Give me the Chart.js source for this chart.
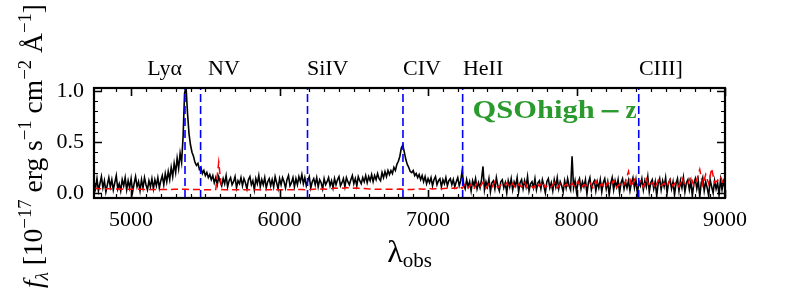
<!DOCTYPE html>
<html><head><meta charset="utf-8">
<script src="https://cdn.jsdelivr.net/npm/chart.js@4.4.0/dist/chart.umd.min.js"></script>
<style>html,body{margin:0;padding:0;background:#fff;}</style>
</head><body>
<canvas id="c" width="789" height="293"></canvas>
<script>
// ---------------- data ----------------
const WAVE_START = 4750, WAVE_STEP = 10;   // black spectrum sampling (Å)
const flux = [
 0.10,0.04,0.14,0.02,0.09,0.16,0.05,0.12,0.01,0.08,0.15,0.06,0.13,0.03,0.10,0.17,0.04,0.09,0.02,0.13,
 0.07,0.15,0.03,0.12,0.05,0.14,0.01,0.09,0.16,0.06,0.11,0.02,0.13,0.05,0.15,0.08,0.03,0.12,0.06,0.14,
 0.04,0.13,0.07,0.15,0.05,0.12,0.17,0.08,0.19,0.11,0.21,0.13,0.25,0.16,0.29,0.20,0.34,0.24,0.39,0.30,
 0.55,0.98,1.04,0.78,0.58,0.47,0.40,0.36,0.30,0.27,0.29,0.23,0.25,0.19,0.22,0.17,0.20,0.15,0.18,0.13,
 0.17,0.10,0.15,0.08,0.16,0.11,0.07,0.14,0.09,0.17,0.06,0.12,0.15,0.08,0.11,0.16,0.05,0.12,0.09,0.15,
 0.07,0.14,0.10,0.04,0.13,0.16,0.08,0.12,0.03,0.14,0.09,0.17,0.06,0.13,0.08,0.15,0.05,0.11,0.14,0.07,
 0.13,0.06,0.16,0.10,0.04,0.14,0.08,0.15,0.11,0.05,0.13,0.17,0.07,0.10,0.15,0.06,0.14,0.08,0.16,0.11,
 0.18,0.09,0.15,0.07,0.12,0.16,0.05,0.11,0.14,0.08,0.15,0.06,0.13,0.10,0.04,0.14,0.08,0.11,0.15,0.07,
 0.12,0.05,0.14,0.08,0.13,0.16,0.07,0.10,0.14,0.06,0.15,0.11,0.08,0.13,0.17,0.09,0.14,0.07,0.16,0.12,
 0.09,0.15,0.11,0.17,0.10,0.16,0.12,0.18,0.11,0.17,0.13,0.19,0.14,0.12,0.20,0.15,0.21,0.16,0.22,0.18,
 0.22,0.19,0.25,0.22,0.28,0.31,0.36,0.44,0.47,0.40,0.33,0.28,0.25,0.21,0.20,0.22,0.17,0.19,0.15,0.18,
 0.13,0.17,0.11,0.16,0.09,0.14,0.10,0.15,0.07,0.13,0.16,0.08,0.12,0.14,0.06,0.13,0.09,0.15,0.07,0.12,
 0.14,0.08,0.13,0.06,0.11,0.15,0.07,0.12,0.22,0.08,0.04,0.13,0.06,0.11,0.02,0.12,0.07,0.14,0.04,0.10,
 0.05,0.13,0.26,0.03,0.11,0.06,0.14,0.01,0.10,0.12,0.04,0.15,0.07,0.02,0.11,0.13,0.05,0.10,0.00,0.12,
 0.06,0.14,0.03,0.11,0.07,0.15,0.01,0.10,0.13,0.04,0.12,0.06,0.16,0.02,0.09,0.11,0.05,0.14,0.03,0.10,
 0.12,0.04,0.13,0.07,0.00,0.11,0.14,0.05,0.10,0.02,0.13,0.06,0.15,0.04,0.11,0.07,0.01,0.12,0.05,0.14,
 0.07,0.03,0.36,0.05,0.12,0.01,0.10,0.14,0.04,0.11,0.06,0.13,-0.01,0.10,0.15,0.03,0.09,0.12,0.02,0.11,
 0.05,0.13,0.01,0.10,0.14,0.04,0.11,-0.02,0.09,0.15,0.03,0.12,0.06,0.13,0.00,0.10,0.14,0.04,0.11,0.05,
 0.12,0.02,0.10,0.15,0.05,0.13,-0.01,0.11,0.07,0.14,0.03,0.12,0.06,0.16,0.01,0.10,0.13,0.04,0.11,-0.03,
 0.09,0.14,0.03,0.12,0.06,0.15,0.00,0.10,0.13,0.04,0.11,-0.02,0.09,0.14,0.02,0.12,0.05,0.15,0.01,0.10,
 0.13,0.03,0.11,-0.03,0.09,0.14,0.04,0.12,-0.04,0.10,0.15,0.02,0.11,0.05,-0.03,0.13,0.06,0.00,0.12,0.04,
 0.10,-0.02,0.13,0.03,0.11,0.05
];
const ERR_START = 4750, ERR_STEP = 20;     // red error spectrum sampling (Å)
const fluxErr = [
 0.045,0.043,0.042,0.041,0.040,0.040,0.039,0.038,0.038,0.037,0.037,0.036,0.036,0.036,0.035,0.035,0.035,0.034,0.034,0.034,
 0.034,0.033,0.033,0.033,0.033,0.034,0.034,0.035,0.036,0.036,0.035,0.035,0.034,0.034,0.033,0.033,0.033,0.032,0.032,0.032,
 0.032,0.033,0.300,0.033,0.031,0.031,0.031,0.031,0.030,0.030,0.030,0.030,0.030,0.030,0.030,0.030,0.030,0.030,0.030,0.030,
 0.030,0.030,0.030,0.031,0.031,0.031,0.032,0.032,0.033,0.034,0.033,0.032,0.033,0.034,0.036,0.038,0.036,0.040,0.037,0.035,
 0.042,0.048,0.045,0.050,0.046,0.052,0.047,0.044,0.049,0.045,0.041,0.043,0.040,0.038,0.037,0.036,0.036,0.035,0.035,0.035,
 0.035,0.036,0.037,0.038,0.036,0.035,0.034,0.034,0.035,0.037,0.039,0.036,0.040,0.042,0.038,0.041,0.044,0.040,0.043,0.046,
 0.042,0.048,0.044,0.070,0.045,0.090,0.050,0.082,0.040,0.095,0.060,0.105,0.045,0.088,0.055,0.110,0.050,0.078,0.062,0.098,
 0.055,0.092,0.048,0.085,0.060,0.105,0.050,0.075,0.045,0.098,0.065,0.110,0.052,0.080,0.058,0.100,0.047,0.090,0.062,0.085,
 0.050,0.095,0.060,0.115,0.048,0.082,0.066,0.100,0.052,0.120,0.058,0.090,0.045,0.105,0.070,0.125,0.055,0.088,0.062,0.110,
 0.210,0.060,0.130,0.070,0.115,0.055,0.140,0.065,0.100,0.050,0.125,0.072,0.095,0.058,0.130,0.068,0.110,0.060,0.145,0.075,
 0.090,0.160,0.070,0.130,0.230,0.080,0.180,0.090,0.240,0.100,0.120,0.160,0.085
];
const lineNames = ['Lyα','NV','SiIV','CIV','HeII','CIII]'];
const lineWaves = [5363, 5468, 6188, 6831, 7233, 8419];
const xTickLabels = [5000, 6000, 7000, 8000, 9000];
const yTickLabels = [0.0, 0.5, 1.0];
const objectLabel = 'QSOhigh';

// ---------------- styling / layout (not data) ----------------
const SERIF = '"Liberation Serif", "Times New Roman", serif';
const X_MIN = 4750, X_MAX = 9000, Y_MIN = -0.05, Y_MAX = 1.03;
const labelAnchors = [5343, 5518, 6184, 6831, 7235, 8420];
const labelAlign = ['right','left','left','left','left','left'];

const specPts = flux.map((f, i) => ({x: WAVE_START + i * WAVE_STEP, y: f}));
const errPts = fluxErr.map((f, i) => ({x: ERR_START + i * ERR_STEP, y: f}));
const lineSets = lineWaves.map(w => ({
  data: [{x: w, y: Y_MIN}, {x: w, y: Y_MAX}],
  borderColor: '#0000ff', borderWidth: 1.6, borderDash: [8, 4],
  pointRadius: 0, order: 0, clip: 0
}));

function drawRich(ctx, parts, x, y) {
  let cx = x;
  parts.forEach(p => {
    ctx.font = (p.style || '') + ' ' + p.size + 'px ' + SERIF;
    ctx.fillText(p.t, cx, y + (p.dy || 0));
    cx += ctx.measureText(p.t).width;
  });
  return cx - x;
}
function richWidth(ctx, parts) {
  let w = 0;
  parts.forEach(p => { ctx.font = (p.style || '') + ' ' + p.size + 'px ' + SERIF; w += ctx.measureText(p.t).width; });
  return w;
}

const decor = {
  id: 'decor',
  afterDraw(chart) {
    const {ctx, chartArea: a, scales: {x, y}} = chart;
    ctx.save();
    ctx.strokeStyle = '#000';
    x.ticks.forEach(t => {
      const v = t.value;
      if (Math.abs(v / 100 - Math.round(v / 100)) > 1e-6) return;
      const major = Math.abs(v / 1000 - Math.round(v / 1000)) < 1e-6;
      const px = Math.round(x.getPixelForValue(v)) + 0.5;
      const len = major ? 8 : 4;
      ctx.lineWidth = major ? 1.6 : 1.2;
      ctx.beginPath();
      ctx.moveTo(px, a.bottom); ctx.lineTo(px, a.bottom - len);
      ctx.moveTo(px, a.top); ctx.lineTo(px, a.top + len);
      ctx.stroke();
    });
    y.ticks.forEach(t => {
      const v = t.value;
      if (Math.abs(v * 10 - Math.round(v * 10)) > 1e-6) return;
      const major = Math.abs(v * 2 - Math.round(v * 2)) < 1e-6;
      const py = Math.round(y.getPixelForValue(v)) + 0.5;
      const len = major ? 8 : 4;
      ctx.lineWidth = major ? 1.6 : 1.2;
      ctx.beginPath();
      ctx.moveTo(a.left, py); ctx.lineTo(a.left + len, py);
      ctx.moveTo(a.right, py); ctx.lineTo(a.right - len, py);
      ctx.stroke();
    });
    ctx.lineWidth = 2.2;
    ctx.strokeRect(a.left, a.top, a.right - a.left, a.bottom - a.top);

    // emission line labels
    ctx.fillStyle = '#000';
    ctx.textBaseline = 'alphabetic';
    ctx.font = '22px ' + SERIF;
    lineNames.forEach((n, i) => {
      ctx.textAlign = labelAlign[i];
      ctx.fillText(n, x.getPixelForValue(labelAnchors[i]), a.top - 13);
    });

    // object label
    ctx.textAlign = 'left';
    ctx.fillStyle = '#2a9a2e';
    const gx = a.left + 0.6 * (a.right - a.left);
    const gy = a.bottom - 0.727 * (a.bottom - a.top);
    ctx.font = 'bold 25px ' + SERIF;
    const w0 = ctx.measureText(objectLabel).width;
    ctx.save();
    ctx.translate(gx, gy);
    ctx.scale(122 / w0, 1);
    ctx.fillText(objectLabel, 0, 0);
    ctx.restore();
    ctx.fillRect(gx + 129, gy - 8, 17, 2.4);
    ctx.font = 'bold 25px ' + SERIF;
    ctx.fillText('z', gx + 153, gy);

    // x axis title
    ctx.fillStyle = '#000';
    const xt = [{t: 'λ', size: 32}, {t: 'obs', size: 21, dy: 5}];
    const xw = richWidth(ctx, xt);
    drawRich(ctx, xt, (a.left + a.right) / 2 - xw / 2, 262);

    // y axis title (rotated)
    const S = 22, s = 15;
    const yt = [
      {t: 'f', size: S, style: 'italic'}, {t: 'λ', size: s, style: 'italic', dy: 5},
      {t: ' [10', size: S}, {t: '−17', size: s, dy: -9},
      {t: ' erg s', size: S}, {t: '−1', size: s, dy: -9},
      {t: ' cm', size: S}, {t: '−2', size: s, dy: -9},
      {t: ' Å', size: S}, {t: '−1', size: s, dy: -9},
      {t: ']', size: S}
    ];
    const yw = richWidth(ctx, yt);
    const k = 284 / yw;
    ctx.save();
    ctx.translate(42, 288);
    ctx.rotate(-Math.PI / 2);
    ctx.scale(k, k);
    drawRich(ctx, yt, 0, 0);
    ctx.restore();
    ctx.restore();
  }
};

new Chart(document.getElementById('c'), {
  type: 'line',
  data: {
    datasets: [
      ...lineSets,
      {data: errPts, borderColor: '#ff0000', borderWidth: 1.5, borderDash: [7, 4], pointRadius: 0, order: 1},
      {data: specPts, borderColor: '#000000', borderWidth: 1.6, pointRadius: 0, order: 2}
    ]
  },
  options: {
    responsive: false, animation: false, devicePixelRatio: 1,
    layout: {padding: {top: 88, right: 64, left: 0, bottom: 0}},
    plugins: {legend: {display: false}, tooltip: {enabled: false}},
    elements: {line: {tension: 0}},
    scales: {
      x: {
        type: 'linear', min: X_MIN, max: X_MAX,
        grid: {display: false, drawTicks: false}, border: {display: false},
        afterFit(sc) { sc.height = 95; },
        ticks: {
          stepSize: 100, includeBounds: false, autoSkip: false, maxRotation: 0, minRotation: 0, padding: 9,
          color: '#000', font: {family: SERIF, size: 22},
          callback: v => { const r = Math.round(v); return (Math.abs(v - r) < 1e-6 && xTickLabels.includes(r)) ? String(r) : ''; }
        }
      },
      y: {
        type: 'linear', min: Y_MIN, max: Y_MAX,
        grid: {display: false, drawTicks: false}, border: {display: false},
        afterFit(sc) { sc.width = 94; },
        ticks: {
          stepSize: 0.1, includeBounds: false, autoSkip: false, padding: 10,
          color: '#000', font: {family: SERIF, size: 22},
          callback: v => { const m = yTickLabels.find(t => Math.abs(t - v) < 1e-6); return m === undefined ? '' : m.toFixed(1); }
        }
      }
    }
  },
  plugins: [decor]
});
</script>
</body></html>
